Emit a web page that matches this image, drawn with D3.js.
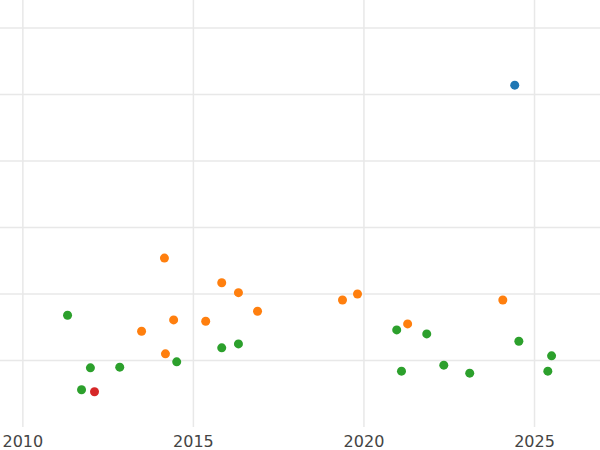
<!DOCTYPE html>
<html>
<head>
<meta charset="utf-8">
<script src="https://cdn.jsdelivr.net/npm/d3@7"></script>
<style>body{margin:0;background:#fff}</style>
</head>
<body>
<svg id="chart" width="600" height="450"></svg>
<script>
// years (decimal) and values per group
var greenX = [2011.29, 2011.70, 2011.96, 2012.82, 2014.49, 2015.81, 2016.30, 2020.94, 2021.08, 2021.82, 2022.32, 2023.08, 2024.52, 2025.37, 2025.48];
var greenY = [1.68, 0.56, 0.89, 0.90, 0.98, 1.19, 1.25, 1.46, 0.84, 1.40, 0.93, 0.81, 1.29, 0.84, 1.07];
var orangeX = [2013.46, 2014.13, 2014.16, 2014.40, 2015.34, 2015.81, 2016.30, 2016.86, 2019.35, 2019.79, 2021.26, 2024.05];
var orangeY = [1.44, 2.54, 1.10, 1.61, 1.59, 2.17, 2.02, 1.74, 1.91, 2.00, 1.55, 1.91];
var blueX = [2024.40];
var blueY = [5.14];
var redX = [2012.08];
var redY = [0.53];
var xTicks = [2010, 2015, 2020, 2025];
var yGrid = [1, 2, 3, 4, 5, 6];

var svg = d3.select('#chart');
var x = d3.scaleLinear().domain([2009.33, 2026.92]).range([0, 600]);
var y = d3.scaleLinear().domain([0, 6]).range([427, 28]);

//* grid
svg.selectAll('.hg').data(yGrid).enter().append('line')
	.attr('x1', 0).attr('x2', 600)
	.attr('y1', function(d){ return y(d); }).attr('y2', function(d){ return y(d); })
	.attr('stroke', '#e8e8e8').attr('stroke-width', 1.5);
svg.selectAll('.vg').data(xTicks).enter().append('line')
	.attr('x1', function(d){ return x(d); }).attr('x2', function(d){ return x(d); })
	.attr('y1', 0).attr('y2', 427)
	.attr('stroke', '#e8e8e8').attr('stroke-width', 1.5);

//* x tick labels
svg.selectAll('.xt').data(xTicks).enter().append('text')
	.attr('x', function(d){ return x(d); })
	.attr('y', 447)
	.attr('font-family', 'DejaVu Sans')
	.attr('font-size', 16)
	.style('text-anchor', 'middle')
	.style('fill', '#444')
	.text(function(d){ return d; });

//* points
var groups = [
	{ xs: greenX, ys: greenY, color: '#2ca02c' },
	{ xs: orangeX, ys: orangeY, color: '#ff7f0e' },
	{ xs: blueX, ys: blueY, color: '#1f77b4' },
	{ xs: redX, ys: redY, color: '#d62728' }
];
groups.forEach(function(g){
	svg.append('g').selectAll('circle').data(g.xs).enter().append('circle')
		.attr('cx', function(d){ return x(d) + 0.7; })
		.attr('cy', function(d, i){ return y(g.ys[i]); })
		.attr('r', 4.5)
		.attr('fill', g.color);
});
</script>
</body>
</html>
